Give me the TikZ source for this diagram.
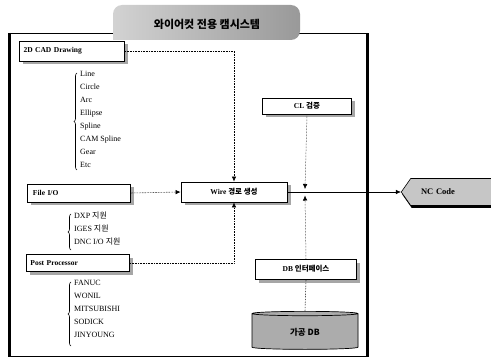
\documentclass[tikz,border=0pt]{standalone}
\usepackage{fontspec}
\setmainfont{Liberation Serif}
\newfontfamily\kr{Noto Sans CJK KR}
\usetikzlibrary{arrows.meta,shadows,decorations.pathreplacing,shapes.geometric,shapes.symbols}
\begin{document}
\begin{tikzpicture}[x=1pt,y=-1pt,
  box/.style={draw, line width=0.8pt, fill=white, font=\bfseries\fontsize{7.5}{8}\selectfont,
    inner sep=2pt, drop shadow={shadow xshift=3.5pt, shadow yshift=-3.5pt, fill=gray!70, opacity=1}},
  item/.style={anchor=north west, align=left, inner sep=0pt, font=\fontsize{8}{13}\selectfont},
  brc/.style={decorate, decoration={brace, amplitude=3pt}, line width=0.6pt},
  dconn/.style={densely dotted, line width=0.6pt},
  sconn/.style={line width=0.5pt},
  tip/.style={-{Latex[length=5pt,width=4.5pt]}}
]
\useasboundingbox (0,0) rectangle (491,361);
% outer frame
\draw[line width=0.6pt] (8,33) rectangle (368,356);
\draw[line width=2.8pt] (10,33) -- (10,357);
\draw[line width=2.4pt] (367,33) -- (367,357);
% title tab
\shade[left color=gray!35, right color=gray!80, rounded corners=9pt] (113,40) -- (113,5) -- (300,5) -- (300,40) [sharp corners] -- cycle;
\node[font=\kr\bfseries\fontsize{11}{13}\selectfont] (title) at (207,24) {와이어컷 전용 캠시스템};

% boxes
\node[box, minimum width=105pt, minimum height=20pt, text width=97pt, align=left] (cad) at (72,51) {2D CAD Drawing};
\node[box, minimum width=103pt, minimum height=18pt, text width=92pt, align=left] (fio) at (79,193) {File I/O};
\node[box, minimum width=103pt, minimum height=17pt, text width=95pt, align=left] (pp) at (78,263) {Post Processor};
\node[box, minimum width=106pt, minimum height=20pt] (wire) at (234,192) {Wire {\kr 경로 생성}};
\node[box, minimum width=89pt, minimum height=16pt] (cl) at (307,106) {CL {\kr 검증}};
\node[box, minimum width=101pt, minimum height=20pt] (dbi) at (306,269) {DB {\kr 인터페이스}};

% lists
\node[item] (l1) at (80,71) {Line\\Circle\\Arc\\Ellipse\\Spline\\CAM Spline\\Gear\\Etc};
\draw[brc] (77,170) -- (77,73);
\node[item] (l2) at (74,212) {DXP {\kr 지원}\\IGES {\kr 지원}\\DNC I/O {\kr 지원}};
\draw[brc] (71,250) -- (71,214);
\node[item] (l3) at (74,280) {FANUC\\WONIL\\MITSUBISHI\\SODICK\\JINYOUNG};
\draw[brc] (71,346) -- (71,282);

% NC code
\node[signal, signal to=west, signal pointer angle=110, draw, line width=0.6pt, fill=gray!45,
  minimum height=27pt, minimum width=92pt, text width=62pt, align=left,
  font=\bfseries\fontsize{8.5}{9}\selectfont,
  drop shadow={shadow xshift=1pt, shadow yshift=-2.5pt, fill=black, opacity=1}] (nc) at (452,192) {NC Code};

% database
\node[cylinder, shape border rotate=90, aspect=0.12, draw, line width=0.7pt, fill=gray!65,
  cylinder uses custom fill, cylinder body fill=gray!65, cylinder end fill=gray!40,
  minimum width=106pt, minimum height=38pt, font=\kr\bfseries\fontsize{8.5}{9}\selectfont] (db) at (305,332) {가공 DB};

% connectors
\coordinate (xa) at (305,189);
\coordinate (xb) at (305,195.5);
\draw[dconn, tip] (cad.east) -| (wire.north);
\draw[dconn, tip] (fio.east) -- (wire.west);
\draw[dconn, tip] (pp.east) -| (wire.south);
\draw[sconn, tip] (wire.east) -- (nc.west);
\draw[sconn, densely dotted, tip] (cl.south) -- (xa);
\draw[sconn, densely dotted, tip] (dbi.north) -- (xb);
\draw[dconn] (db.top) -- (dbi.south);
\end{tikzpicture}
\end{document}
